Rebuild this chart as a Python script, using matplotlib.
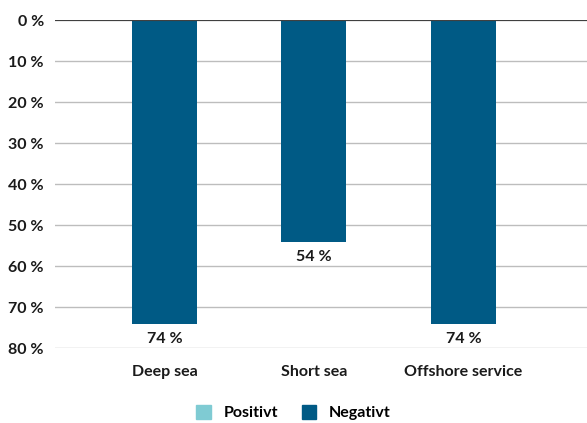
import matplotlib
matplotlib.use('Agg')
import matplotlib.pyplot as plt
import numpy as np
from matplotlib.patches import Patch

# segments and share of answers (percent)
segments = ['Deep sea', 'Short sea', 'Offshore service']
positivt = [0, 0, 0]
negativt = [74, 54, 74]
y_ticks = [0, 10, 20, 30, 40, 50, 60, 70, 80]

c_pos = '#7FCBD3'
c_neg = '#005A85'

plt.rcParams['font.family'] = ['Lato', 'DejaVu Sans']

fig = plt.figure(figsize=(5.87, 4.23), dpi=100)
ax = fig.add_axes([0.0937, 0.177, 0.9063, 0.7756])

x = np.arange(len(segments))
w = 0.435

# horizontal grid behind the bars
for t in y_ticks[1:]:
    ax.axhline(t, color='#BDBDBD', linewidth=1.0, zorder=0)

ax.bar(x, positivt, width=w, color=c_pos, zorder=2)
ax.bar(x, negativt, width=w, bottom=positivt, color=c_neg, zorder=2)

# value labels just under each bar
for xi, p, n in zip(x, positivt, negativt):
    ax.annotate('%d %%' % n, (xi, p + n), xytext=(0, -6), textcoords='offset points',
                ha='center', va='top', fontsize=11.5, fontweight='bold', color='#1A1A1A')

ax.axhline(0, color='#404040', linewidth=1.6, zorder=3)

# cosmetics
ax.set_ylim(80, 0)
ax.set_xlim(-0.732, 2.826)
ax.set_yticks(y_ticks)
ax.set_yticklabels(['%d %%' % t for t in y_ticks])
ax.set_xticks(x)
ax.set_xticklabels(segments)
ax.tick_params(axis='y', length=0, pad=8, labelsize=11.5)
ax.tick_params(axis='x', length=0, pad=12, labelsize=11.5)
for lab in ax.get_yticklabels() + ax.get_xticklabels():
    lab.set_fontweight('bold')
    lab.set_color('#1A1A1A')
for s in ax.spines.values():
    s.set_visible(False)

handles = [Patch(color=c_pos, label='Positivt'), Patch(color=c_neg, label='Negativt')]
leg = fig.legend(handles=handles, loc='center', bbox_to_anchor=(0.5, 0.024), ncol=2,
                 frameon=False, handlelength=0.9, handleheight=0.9, handletextpad=0.8,
                 columnspacing=1.5, prop={'size': 11.5, 'weight': 'bold'})

fig.savefig('out.png', dpi=100)
plt.close(fig)
